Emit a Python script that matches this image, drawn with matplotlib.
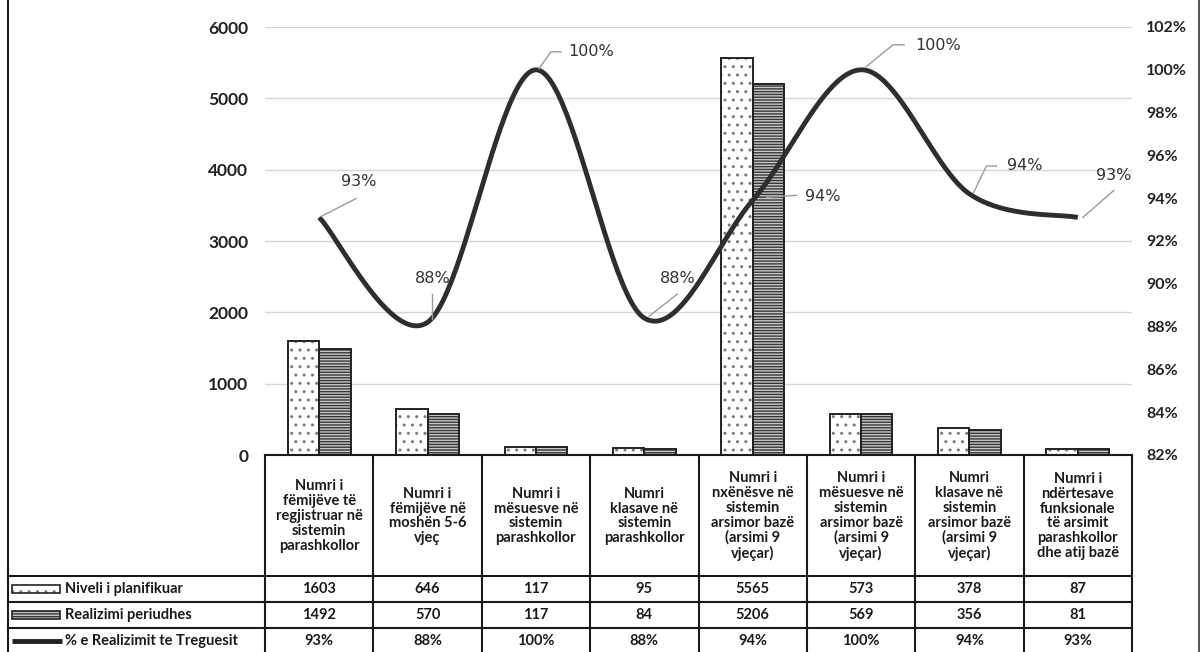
import numpy as np
import matplotlib
matplotlib.use("Agg")
import matplotlib.pyplot as plt
from matplotlib.patches import Rectangle
from matplotlib.lines import Line2D
from matplotlib.transforms import blended_transform_factory

# ---------------- data ----------------
categories = [
    "Numri i\nfëmijëve të\nregjistruar në\nsistemin\nparashkollor",
    "Numri i\nfëmijëve në\nmoshën 5-6\nvjeç",
    "Numri i\nmësuesve në\nsistemin\nparashkollor",
    "Numri\nklasave në\nsistemin\nparashkollor",
    "Numri i\nnxënësve në\nsistemin\narsimor bazë\n(arsimi 9\nvjeçar)",
    "Numri i\nmësuesve në\nsistemin\narsimor bazë\n(arsimi 9\nvjeçar)",
    "Numri\nklasave në\nsistemin\narsimor bazë\n(arsimi 9\nvjeçar)",
    "Numri i\nndërtesave\nfunksionale\ntë arsimit\nparashkollor\ndhe atij bazë",
]
planned = [1603, 646, 117, 95, 5565, 573, 378, 87]
realized = [1492, 570, 117, 84, 5206, 569, 356, 81]
pct_line = [93.1, 88.2, 100.0, 88.4, 93.9, 100.0, 94.2, 93.1]
pct_labels = ["93%", "88%", "100%", "88%", "94%", "100%", "94%", "93%"]
series_names = ["Niveli i planifikuar", "Realizimi periudhes", "% e Realizimit te Treguesit"]
left_ticks = [0, 1000, 2000, 3000, 4000, 5000, 6000]
right_ticks = [82, 84, 86, 88, 90, 92, 94, 96, 98, 100, 102]

# ---------------- layout ----------------
W, H = 1203, 652
FONT = "Lato"
plt.rcParams["hatch.linewidth"] = 1.0
fig = plt.figure(figsize=(W / 100, H / 100), dpi=100)
fig.patch.set_facecolor("white")


def fx(px):
    return px / W


def fy(py):
    return 1 - py / H


X0, X1 = 265, 1132
Y_TOP, Y_BASE = 27, 455
ax = fig.add_axes([fx(X0), fy(Y_BASE), fx(X1) - fx(X0), fy(Y_TOP) - fy(Y_BASE)])
ax.set_xlim(-0.5, len(categories) - 0.5)
ax.set_ylim(left_ticks[0], left_ticks[-1])
ax.set_yticks(left_ticks)
ax.set_yticklabels([str(v) for v in left_ticks], fontsize=12.5, fontweight="bold",
                   family=FONT, color="#222222")
ax.tick_params(axis="y", length=0, pad=12)
ax.set_xticks([])
for s in ax.spines.values():
    s.set_visible(False)
ax.set_axisbelow(True)
for v in left_ticks[1:]:
    ax.axhline(v, color="#d6d6d6", lw=1.0, zorder=0)

x = np.arange(len(categories))
w = 0.29
DOT = ".."
STRIPE = "------"
# planned: dotted
ax.bar(x - w / 2, planned, w, facecolor="white", edgecolor="#7a7a7a", hatch=DOT, lw=0, zorder=2)
ax.bar(x - w / 2, planned, w, fill=False, edgecolor="#222222", lw=1.4, zorder=3)
# realized: dark horizontal stripes
ax.bar(x + w / 2, realized, w, facecolor="#363636", edgecolor="#c8c8c8", hatch=STRIPE, lw=0, zorder=2)
ax.bar(x + w / 2, realized, w, fill=False, edgecolor="#222222", lw=1.4, zorder=3)

# secondary axis with smoothed line
ax2 = ax.twinx()
ax2.set_ylim(right_ticks[0], right_ticks[-1])
ax2.set_yticks(right_ticks)
ax2.set_yticklabels([f"{v}%" for v in right_ticks], fontsize=11.5, fontweight="bold",
                    family=FONT, color="#222222")
ax2.tick_params(axis="y", length=0, pad=10)
for s in ax2.spines.values():
    s.set_visible(False)


def catmull_rom(xs, ys, n=50):
    P = np.column_stack([xs, ys]).astype(float)
    Pe = np.vstack([P[0], P, P[-1]])
    out = []
    t = np.linspace(0, 1, n)[:, None]
    for i in range(len(P) - 1):
        p0, p1, p2, p3 = Pe[i], Pe[i + 1], Pe[i + 2], Pe[i + 3]
        c1 = p1 + (p2 - p0) / 6
        c2 = p2 - (p3 - p1) / 6
        seg = (1 - t) ** 3 * p1 + 3 * (1 - t) ** 2 * t * c1 + 3 * (1 - t) * t ** 2 * c2 + t ** 3 * p2
        out.append(seg if i == 0 else seg[1:])
    return np.vstack(out)


curve = catmull_rom(x, pct_line)
ax2.plot(curve[:, 0], curve[:, 1], color="#2e2e2e", lw=3.5, solid_capstyle="butt", zorder=4)

# data labels with leader lines (offsets in pixels, y downward)
label_off = [(40, -36), (5, -44), (55, -18), (33, -40), (70, -4), (77, -24), (55, -28), (36, -42)]
leader_off = [
    [(2, -1), (37, -19)],
    [(4, -3), (4, -28)],
    [(3, -1), (15, -18), (25, -18)],
    [(5, -2), (33, -24)],
    [(14, -3), (44, -5)],
    [(5, -3), (32, -25), (43, -25)],
    [(4, -1), (17, -28), (27, -28)],
    [(5, 0), (36, -27)],
]
for i, (xi, yi) in enumerate(zip(x, pct_line)):
    px, py = ax2.transData.transform((xi, yi))  # display, origin bottom-left
    lx = [(px + dx) / W for dx, dy in leader_off[i]]
    ly = [(py - dy) / H for dx, dy in leader_off[i]]
    fig.add_artist(Line2D(lx, ly, color="#9a9a9a", lw=1.0, transform=fig.transFigure, zorder=5))
    dx, dy = label_off[i]
    fig.text((px + dx) / W, (py - dy) / H, pct_labels[i], ha="center", va="center",
             fontsize=11.5, family="DejaVu Sans", color="#333333", zorder=6)

# ---------------- data table ----------------
bt = blended_transform_factory(ax.transData, fig.transFigure)
ROW_LINES = [455, 576, 602, 628, 654]
LEFT = 8
lc = "#1a1a1a"
# horizontal lines
fig.add_artist(Line2D([fx(X0), fx(X1)], [fy(455)] * 2, color=lc, lw=1.5, transform=fig.transFigure))
for yl in ROW_LINES[1:]:
    fig.add_artist(Line2D([fx(LEFT), fx(X1)], [fy(yl)] * 2, color=lc, lw=1.5, transform=fig.transFigure))
# vertical lines
for b in np.arange(len(categories) + 1) - 0.5:
    fig.add_artist(Line2D([b, b], [fy(455), fy(654)], color=lc, lw=1.5, transform=bt))
# figure border (left / right)
fig.add_artist(Line2D([fx(LEFT)] * 2, [0, 1], color=lc, lw=1.5, transform=fig.transFigure))
fig.add_artist(Line2D([fx(1199)] * 2, [0, 1], color="#444444", lw=1.3, transform=fig.transFigure))

# header texts
for i, c in enumerate(categories):
    fig.text(i, fy(516), c, transform=bt, ha="center", va="center", fontsize=10.5,
             fontweight="bold", family=FONT, color="#1a1a1a", linespacing=1.08)

row_vals = [[str(v) for v in planned], [str(v) for v in realized], pct_labels]
row_centers = [589, 615, 641]
for r, vals in enumerate(row_vals):
    for i, v in enumerate(vals):
        fig.text(i, fy(row_centers[r]), v, transform=bt, ha="center", va="center",
                 fontsize=10.5, fontweight="bold", family=FONT, color="#1a1a1a")
    fig.text(fx(65), fy(row_centers[r]), series_names[r], ha="left", va="center",
             fontsize=10.5, fontweight="bold", family=FONT, color="#1a1a1a")

# legend keys
kx0, kx1 = 12, 60
kh = 8
y1 = row_centers[0]
fig.add_artist(Rectangle((fx(kx0), fy(y1 + kh / 2)), fx(kx1) - fx(kx0), kh / H, facecolor="white",
                         edgecolor="#7a7a7a", hatch=DOT, lw=0, transform=fig.transFigure))
fig.add_artist(Rectangle((fx(kx0), fy(y1 + kh / 2)), fx(kx1) - fx(kx0), kh / H, fill=False,
                         edgecolor="#222222", lw=1.2, transform=fig.transFigure))
y2 = row_centers[1]
fig.add_artist(Rectangle((fx(kx0), fy(y2 + kh / 2)), fx(kx1) - fx(kx0), kh / H, facecolor="#363636",
                         edgecolor="#c8c8c8", hatch=STRIPE, lw=0, transform=fig.transFigure))
fig.add_artist(Rectangle((fx(kx0), fy(y2 + kh / 2)), fx(kx1) - fx(kx0), kh / H, fill=False,
                         edgecolor="#222222", lw=1.2, transform=fig.transFigure))
y3 = row_centers[2]
fig.add_artist(Line2D([fx(kx0), fx(kx1 + 2)], [fy(y3)] * 2, color="#222222", lw=3.5,
                      solid_capstyle="butt", transform=fig.transFigure))

fig.savefig("out.png", dpi=100)
